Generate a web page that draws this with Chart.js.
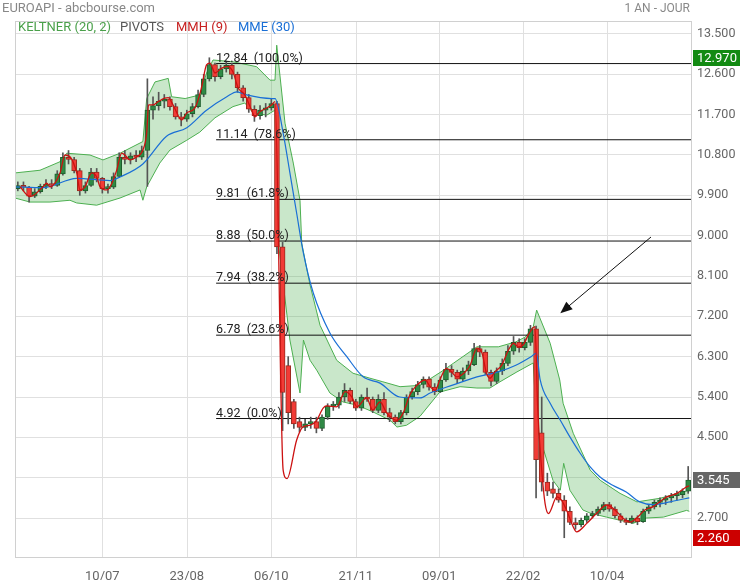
<!DOCTYPE html>
<html lang="fr">
<head>
<meta charset="utf-8">
<title>EUROAPI - abcbourse.com</title>
<script src="https://cdn.jsdelivr.net/npm/chart.js@4.4.1/dist/chart.umd.min.js"></script>
<style>
  html, body { margin: 0; padding: 0; background: #fff; }
  #wrap { width: 740px; height: 580px; }
</style>
</head>
<body>
<div id="wrap"><canvas id="priceChart" width="740" height="580"></canvas></div>
<script>
// candles (one bar = 2 sessions)
const openP = [
  10.05, 10.12, 10.08, 9.88, 9.98, 10.1, 10.15, 10.12, 10.38, 10.75,
  10.7, 10.45, 10.0, 10.12, 10.42, 10.28, 10.05, 10.08, 10.32, 10.75,
  10.7, 10.78, 10.75, 10.9, 11.8, 11.9, 12.0, 12.05, 11.88, 11.65,
  11.6, 11.72, 11.88, 12.15, 12.5, 12.82, 12.55, 12.72, 12.8, 12.6,
  12.3, 12.08, 11.82, 11.68, 11.8, 11.85, 11.95, 8.75, 6.1, 5.3,
  4.85, 4.72, 4.8, 4.85, 4.7, 4.95, 5.2, 5.22, 5.4, 5.55,
  5.3, 5.15, 5.4, 5.35, 5.1, 5.35, 5.05, 4.95, 4.85, 5.05,
  5.4, 5.52, 5.68, 5.8, 5.62, 5.52, 5.78, 6.02, 5.95, 5.8,
  5.98, 6.12, 6.48, 6.4, 5.95, 5.75, 5.98, 6.15, 6.42, 6.62,
  6.5, 6.62, 6.92, 4.6, 3.5, 3.35, 3.25, 3.1, 2.85, 2.6,
  2.55, 2.65, 2.75, 2.8, 2.88, 3.0, 2.9, 2.75, 2.65, 2.6,
  2.7, 2.62, 2.85, 2.95, 3.05, 3.1, 3.15, 3.2, 3.22, 3.3
];
const highP = [
  10.2, 10.2, 10.1, 10.05, 10.15, 10.25, 10.25, 10.45, 10.85, 10.9,
  10.75, 10.5, 10.2, 10.5, 10.5, 10.3, 10.15, 10.4, 10.85, 10.9,
  10.85, 10.9, 11.0, 12.5, 12.1, 12.2, 12.15, 12.1, 11.95, 11.75,
  11.8, 11.95, 12.25, 12.6, 12.97, 12.85, 12.8, 12.9, 12.85, 12.65,
  12.35, 12.15, 11.9, 11.9, 11.95, 12.05, 12.0, 8.85, 6.3, 5.35,
  4.95, 4.9, 4.95, 4.95, 5.0, 5.25, 5.3, 5.5, 5.7, 5.6,
  5.35, 5.45, 5.6, 5.4, 5.45, 5.5, 5.15, 5.0, 5.1, 5.45,
  5.6, 5.75, 5.85, 5.85, 5.7, 5.85, 6.15, 6.1, 6.0, 6.05,
  6.2, 6.6, 6.55, 6.45, 6.0, 6.05, 6.25, 6.55, 6.75, 6.7,
  6.7, 7.0, 6.98, 5.4, 3.7, 3.5, 3.35, 3.2, 2.95, 2.7,
  2.7, 2.8, 2.85, 2.95, 3.05, 3.05, 2.95, 2.8, 2.7, 2.75,
  2.75, 2.9, 3.0, 3.1, 3.15, 3.2, 3.25, 3.3, 3.35, 3.85
];
const lowP = [
  10.0, 10.0, 9.75, 9.85, 9.95, 10.05, 10.05, 10.1, 10.35, 10.6,
  10.4, 9.9, 9.95, 10.1, 10.2, 9.95, 9.95, 10.05, 10.3, 10.6,
  10.6, 10.65, 10.7, 10.1, 11.6, 11.8, 11.85, 11.8, 11.6, 11.45,
  11.55, 11.65, 11.85, 12.1, 12.45, 12.45, 12.5, 12.65, 12.5, 12.2,
  12.0, 11.75, 11.55, 11.6, 11.65, 11.8, 8.6, 4.65, 4.8, 4.7,
  4.62, 4.65, 4.7, 4.6, 4.65, 4.9, 5.1, 5.15, 5.3, 5.25,
  5.1, 5.1, 5.3, 5.05, 5.05, 5.0, 4.85, 4.8, 4.8, 5.0,
  5.35, 5.45, 5.6, 5.55, 5.45, 5.5, 5.75, 5.85, 5.7, 5.75,
  5.9, 6.1, 6.3, 5.9, 5.65, 5.7, 5.9, 6.1, 6.35, 6.4,
  6.45, 6.55, 3.15, 3.3, 3.2, 3.15, 3.05, 2.26, 2.55, 2.45,
  2.5, 2.6, 2.7, 2.75, 2.85, 2.85, 2.7, 2.6, 2.55, 2.58,
  2.55, 2.6, 2.8, 2.9, 2.95, 3.0, 3.05, 3.1, 3.15, 3.25
];
const closeP = [
  10.12, 10.08, 9.88, 9.98, 10.1, 10.15, 10.12, 10.38, 10.75, 10.7,
  10.45, 10.0, 10.12, 10.42, 10.28, 10.05, 10.08, 10.32, 10.75, 10.7,
  10.78, 10.75, 10.9, 11.8, 11.9, 12.0, 12.05, 11.88, 11.65, 11.6,
  11.72, 11.88, 12.15, 12.5, 12.82, 12.55, 12.72, 12.8, 12.6, 12.3,
  12.08, 11.82, 11.68, 11.8, 11.85, 11.95, 8.75, 5.5, 5.05, 4.8,
  4.72, 4.8, 4.85, 4.7, 4.95, 5.2, 5.22, 5.4, 5.55, 5.3,
  5.15, 5.4, 5.35, 5.1, 5.35, 5.05, 4.95, 4.85, 5.05, 5.4,
  5.52, 5.68, 5.8, 5.62, 5.52, 5.78, 6.02, 5.95, 5.8, 5.98,
  6.12, 6.48, 6.4, 5.95, 5.75, 5.98, 6.15, 6.42, 6.62, 6.5,
  6.62, 6.92, 4.0, 3.5, 3.3, 3.25, 3.1, 2.85, 2.6, 2.55,
  2.65, 2.75, 2.8, 2.9, 3.0, 2.9, 2.75, 2.65, 2.6, 2.7,
  2.62, 2.85, 2.95, 3.05, 3.1, 3.15, 3.2, 3.22, 3.3, 3.545
];

// Keltner (20, 2) bands, read as [bar position, value]
const keltnerUp = [
  [-0.5, 10.40], [3.94, 10.46], [7.49, 10.65], [8.68, 10.84], [12.81, 10.80], [15.12, 10.69],
  [18.14, 10.84], [22.2, 11.10], [22.88, 12.06], [24.35, 12.43], [26.7, 12.51], [27.3, 12.10],
  [29.7, 12.06], [32.3, 12.14], [33.5, 12.63], [34.65, 12.92], [38.2, 12.88], [42.4, 12.77],
  [44.77, 12.47], [45.65, 12.47], [45.96, 13.25], [47.43, 11.51], [48.9, 10.62], [50.09, 9.79],
  [50.4, 8.83], [51.87, 7.9], [53.65, 7.0], [56.6, 6.22], [59.5, 5.93], [62.5, 5.82],
  [64.8, 5.74], [67.85, 5.63], [71.4, 5.66], [75.6, 6.0], [77.4, 6.16], [81.5, 6.52],
  [85.3, 6.52], [88.4, 6.63], [90.1, 6.74], [91.5, 6.97], [92.1, 7.34], [94.5, 6.6],
  [96.2, 5.78], [96.8, 5.26], [98.6, 4.59], [101.6, 3.77], [103.4, 3.54], [106.9, 3.25],
  [109.9, 3.06], [114.0, 3.14], [118.1, 3.28], [119.2, 3.32]
];
const keltnerLow = [
  [-0.5, 9.84], [2.16, 9.75], [5.71, 9.75], [9.26, 9.79], [10.45, 9.73], [14.0, 9.68],
  [18.14, 9.84], [21.7, 10.02], [22.2, 9.79], [22.88, 10.09], [25.2, 10.62], [27.0, 10.91],
  [30.0, 11.13], [32.3, 11.31], [35.0, 11.63], [38.2, 11.88], [40.3, 11.96], [41.75, 11.74],
  [44.2, 11.69], [45.65, 11.80], [46.2, 8.9], [48.3, 6.67], [50.09, 5.49], [50.7, 6.67],
  [51.87, 6.22], [53.05, 6.0], [55.4, 5.49], [57.7, 5.29], [60.2, 5.22], [63.0, 5.07],
  [66.1, 4.88], [67.3, 4.73], [69.0, 4.77], [71.4, 4.97], [74.9, 5.51], [78.5, 5.63],
  [81.5, 5.6], [83.8, 5.6], [85.6, 5.74], [88.6, 5.96], [91.5, 6.16], [92.1, 4.73],
  [95.0, 3.54], [96.3, 3.32], [96.9, 3.92], [98.0, 3.32], [100.3, 2.88], [101.6, 2.81],
  [104.5, 2.72], [106.9, 2.65], [109.2, 2.58], [111.6, 2.70], [114.6, 2.72], [118.7, 2.87],
  [119.2, 2.85]
];
// MME (30)
const mme = [
  [-0.5, 10.09], [4.47, 10.07], [10.45, 10.28], [16.36, 10.23], [18.14, 10.31], [22.2, 10.6],
  [26.4, 11.22], [30.0, 11.41], [33.5, 11.8], [37.1, 12.1], [38.9, 12.21], [40.6, 12.14],
  [45.07, 12.06], [45.66, 12.06], [47.1, 11.29], [48.3, 10.4], [49.5, 9.5], [50.7, 8.61],
  [52.45, 7.72], [55.4, 6.83], [58.4, 6.3], [61.3, 5.85], [64.3, 5.71], [67.8, 5.4],
  [71.4, 5.38], [73.2, 5.49], [77.3, 5.67], [81.5, 5.85], [85.3, 5.96], [88.4, 6.11],
  [91.1, 6.3], [92.06, 6.38], [92.7, 5.8], [94.5, 5.26], [96.3, 4.88], [98.0, 4.51],
  [99.8, 4.15], [101.6, 3.84], [103.3, 3.62], [105.6, 3.43], [108.0, 3.28], [110.4, 3.06],
  [112.8, 3.0], [115.8, 3.06], [118.4, 3.13], [119.2, 3.15]
];
// MMH (9)
const mmh = [
  [0.4, 10.09], [2.16, 9.87], [4.47, 10.09], [5.13, 10.17], [5.71, 10.09], [7.49, 10.4],
  [8.38, 10.8], [9.26, 10.76], [10.45, 10.4], [11.04, 10.02], [11.93, 10.09], [13.1, 10.4],
  [14.0, 10.31], [14.6, 10.09], [15.8, 10.02], [16.7, 10.17], [17.55, 10.46], [18.44, 10.84],
  [19.0, 10.8], [19.9, 10.69], [21.1, 10.76], [22.2, 10.91], [22.9, 11.32], [23.2, 11.92],
  [24.05, 11.92], [24.9, 11.99], [26.1, 12.07], [26.7, 12.08], [27.55, 11.92], [29.1, 11.58],
  [30.0, 11.74], [31.45, 11.85], [32.6, 12.3], [33.5, 12.81], [34.1, 12.85], [35.0, 12.63],
  [36.2, 12.74], [37.3, 12.77], [38.2, 12.65], [39.1, 12.3], [40.3, 12.14], [41.5, 11.8],
  [42.1, 11.65], [43.0, 11.77], [44.2, 11.85], [45.07, 11.92], [45.66, 11.99], [47.1, 3.77],
  [47.8, 3.58], [49.5, 4.44], [50.6, 4.73], [51.9, 4.77], [53.05, 4.88], [54.2, 5.15],
  [54.8, 5.2], [56.6, 5.18], [58.1, 5.52], [59.3, 5.4], [60.2, 5.18], [61.9, 5.38],
  [63.0, 5.11], [64.3, 5.29], [65.5, 5.04], [67.3, 4.88], [68.4, 5.04], [69.6, 5.45],
  [70.8, 5.66], [72.3, 5.78], [73.2, 5.63], [74.1, 5.55], [74.9, 5.78], [76.1, 6.04],
  [77.0, 5.96], [77.9, 5.85], [79.4, 5.96], [80.3, 6.11], [81.5, 6.49], [82.4, 6.38],
  [83.2, 5.93], [83.8, 5.82], [84.7, 5.96], [85.9, 6.11], [87.1, 6.45], [88.0, 6.6],
  [88.85, 6.52], [89.7, 6.56], [90.6, 6.78], [91.8, 6.97], [92.3, 5.11], [93.0, 3.77],
  [93.6, 3.02], [94.2, 2.8], [95.7, 3.17], [96.5, 3.1], [97.4, 2.88], [98.6, 2.5],
  [99.2, 2.39], [101.0, 2.58], [102.8, 2.81], [104.5, 2.99], [106.0, 2.88], [107.4, 2.7],
  [108.7, 2.61], [110.1, 2.73], [111.3, 2.88], [112.7, 2.95], [115.2, 3.17], [117.0, 3.25],
  [118.4, 3.37], [119.2, 3.42]
];

// Fibonacci retracement
const fibLevels = [12.84, 11.14, 9.81, 8.88, 7.94, 6.78, 4.92];
const fibPct = ['100.0%', '78.6%', '61.8%', '50.0%', '38.2%', '23.6%', '0.0%'];
const fibStart = 35.2;

// axis ticks
const xTickPos = [15, 30, 45, 60, 74.8, 89.7, 104.6];
const xTickLabels = ['10/07', '23/08', '06/10', '21/11', '09/01', '22/02', '10/04'];
const yTicks = [2.7, 3.6, 4.5, 5.4, 6.3, 7.2, 8.1, 9.0, 9.9, 10.8, 11.7, 12.6, 13.5];

// drawn arrow, [bar position, price]
const arrowFrom = [112.4, 8.97];
const arrowTo = [96.3, 7.27];

const toPts = arr => arr.map(p => ({x: p[0], y: p[1]}));
const upColor = '#2f8a45', downColor = '#f23b36';

const datasets = [
    {
        type: 'line', label: 'kUp', data: toPts(keltnerUp),
        borderColor: '#4caf50', borderWidth: 1, pointRadius: 0,
        fill: '+1', backgroundColor: 'rgba(76,175,80,0.3)', order: 20
    },
    {
        type: 'line', label: 'kLow', data: toPts(keltnerLow),
        borderColor: '#4caf50', borderWidth: 1, pointRadius: 0, fill: false, order: 19
    }
];
fibLevels.forEach((v, i) => {
    datasets.push({
        type: 'line', label: 'fib' + i,
        data: [{x: fibStart, y: v}, {x: 119.5, y: v}],
        borderColor: '#111', borderWidth: 1, pointRadius: 0, fill: false, order: 15
    });
});
datasets.push({
    type: 'bar', label: 'wick',
    data: closeP.map((c, i) => ({x: i, y: [lowP[i], highP[i]]})),
    backgroundColor: '#555', barThickness: 1, grouped: false, order: 10
});
datasets.push({
    type: 'bar', label: 'body',
    data: closeP.map((c, i) => ({x: i, y: [openP[i], c]})),
    backgroundColor: closeP.map((c, i) => c >= openP[i] ? upColor : downColor),
    borderColor: closeP.map((c, i) => c >= openP[i] ? '#1d5e2c' : '#9a2a1e'),
    borderWidth: 1, borderSkipped: false, barThickness: 5, minBarLength: 2,
    grouped: false, order: 9
});
datasets.push({
    type: 'line', label: 'MME', data: toPts(mme),
    borderColor: '#1a6fd6', borderWidth: 1.2, pointRadius: 0, fill: false,
    cubicInterpolationMode: 'monotone', order: 2
});
datasets.push({
    type: 'line', label: 'MMH', data: toPts(mmh),
    borderColor: '#cc1111', borderWidth: 1.3, pointRadius: 0, fill: false,
    cubicInterpolationMode: 'monotone', order: 1
});

// vertical grid lines at the date ticks
const dateGrid = {
    id: 'dateGrid',
    beforeDatasetsDraw(chart) {
        const {ctx, chartArea: a, scales: {x}} = chart;
        ctx.save();
        ctx.strokeStyle = '#e0e0e0';
        ctx.lineWidth = 1;
        xTickPos.forEach(v => {
            const px = Math.round(x.getPixelForValue(v)) + 0.5;
            ctx.beginPath();
            ctx.moveTo(px, a.top);
            ctx.lineTo(px, a.bottom);
            ctx.stroke();
        });
        ctx.restore();
    }
};

// texts, frame, fib labels, arrow and price boxes
const overlay = {
    id: 'overlay',
    afterDraw(chart) {
        const {ctx, chartArea: a, scales: {x, y}} = chart;
        ctx.save();
        ctx.strokeStyle = '#d0d0d0';
        ctx.lineWidth = 1;
        ctx.strokeRect(a.left + 0.5, a.top + 0.5, a.right - a.left, a.bottom - a.top);

        ctx.textBaseline = 'middle';
        ctx.font = '13px Roboto';
        ctx.fillStyle = '#888';
        ctx.textAlign = 'left';
        ctx.fillText('EUROAPI - abcbourse.com', 2, 9);
        ctx.textAlign = 'right';
        ctx.font = '12px Roboto';
        ctx.fillText('1 AN - JOUR', 690, 9);

        // indicator legend
        ctx.textAlign = 'left';
        ctx.font = '13px Roboto';
        const legend = [['KELTNER (20, 2)', '#4aa04a', 18], ['PIVOTS', '#555', 120],
                        ['MMH (9)', '#c62020', 176], ['MME (30)', '#1a6fd6', 238]];
        legend.forEach(l => { ctx.fillStyle = l[1]; ctx.fillText(l[0], l[2], 28); });

        // fib labels
        ctx.font = '12.5px Roboto';
        ctx.fillStyle = '#222';
        ctx.textBaseline = 'alphabetic';
        fibLevels.forEach((v, i) => {
            ctx.fillText(v.toFixed(2) + '  (' + fibPct[i] + ')', x.getPixelForValue(fibStart), y.getPixelForValue(v) - 2);
        });

        // arrow
        const x1 = x.getPixelForValue(arrowFrom[0]), y1 = y.getPixelForValue(arrowFrom[1]);
        const x2 = x.getPixelForValue(arrowTo[0]), y2 = y.getPixelForValue(arrowTo[1]);
        const ang = Math.atan2(y2 - y1, x2 - x1);
        ctx.strokeStyle = '#111';
        ctx.lineWidth = 1;
        ctx.beginPath();
        ctx.moveTo(x1, y1);
        ctx.lineTo(x2 - 6 * Math.cos(ang), y2 - 6 * Math.sin(ang));
        ctx.stroke();
        ctx.fillStyle = '#111';
        ctx.beginPath();
        ctx.moveTo(x2, y2);
        ctx.lineTo(x2 - 12 * Math.cos(ang) + 5 * Math.sin(ang), y2 - 12 * Math.sin(ang) - 5 * Math.cos(ang));
        ctx.lineTo(x2 - 12 * Math.cos(ang) - 5 * Math.sin(ang), y2 - 12 * Math.sin(ang) + 5 * Math.cos(ang));
        ctx.closePath();
        ctx.fill();

        // price boxes: highest, last, lowest
        const hi = Math.max(...highP), lo = Math.min(...lowP), last = closeP[closeP.length - 1];
        ctx.font = '13px Roboto';
        ctx.textBaseline = 'middle';
        [[hi, '#128a12'], [last, '#666666'], [lo, '#cc0000']].forEach(b => {
            const py = Math.round(y.getPixelForValue(b[0]));
            ctx.fillStyle = b[1];
            ctx.fillRect(693, py - 8, 47, 16);
            ctx.fillStyle = '#fff';
            ctx.fillText(b[0].toFixed(3), 697, py + 1);
        });
        ctx.restore();
    }
};

const chart = new Chart(document.getElementById('priceChart'), {
    type: 'line',
    data: { datasets: datasets },
    options: {
        responsive: false,
        animation: false,
        layout: { padding: { left: 15, top: 21, right: 0, bottom: 0 } },
        plugins: { legend: { display: false }, tooltip: { enabled: false } },
        scales: {
            x: {
                type: 'linear', min: -0.5, max: 119.5, offset: false,
                afterBuildTicks: s => { s.ticks = xTickPos.map(v => ({value: v})); },
                afterFit: s => { s.height = 23; },
                ticks: {
                    callback: (v, i) => xTickLabels[i],
                    color: '#666', font: { family: 'Roboto', size: 13 },
                    maxRotation: 0, padding: 4, autoSkip: false
                },
                grid: { display: false },
                border: { color: '#d0d0d0' }
            },
            y: {
                type: 'linear', position: 'right', min: 1.83, max: 13.79,
                afterBuildTicks: s => { s.ticks = yTicks.map(v => ({value: v})); },
                afterFit: s => { s.width = 49; },
                ticks: {
                    callback: v => v.toFixed(3),
                    color: '#666', font: { family: 'Roboto', size: 12.5 }, padding: 6
                },
                grid: { color: '#e0e0e0', drawTicks: false },
                border: { color: '#d0d0d0' }
            }
        }
    },
    plugins: [dateGrid, overlay]
});
</script>
</body>
</html>
